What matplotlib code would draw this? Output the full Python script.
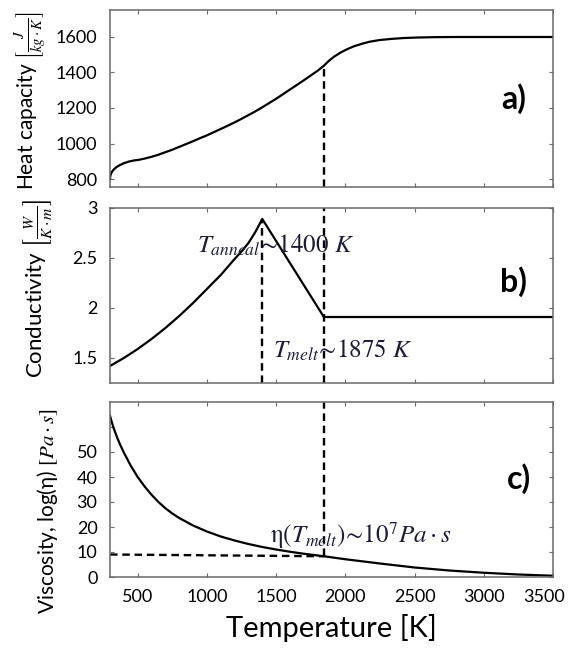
import matplotlib
matplotlib.use('Agg')
import matplotlib.pyplot as plt
import matplotlib.transforms as mtransforms

# ---------------- data ----------------
T_ANNEAL = 1400
T_MELT = 1845

T_CP = [300, 302, 306, 312, 325, 345, 370, 400, 435, 470, 507, 550, 600, 650,
        700, 750, 800, 850, 900, 950, 1000, 1050, 1100, 1150, 1200, 1250,
        1300, 1350, 1400, 1450, 1500, 1550, 1600, 1650, 1700, 1750, 1800,
        1845, 1880, 1920, 1965, 2010, 2060, 2120, 2180, 2250, 2330, 2420,
        2520, 2650, 2800, 3500]
CP = [800, 815, 828, 838, 852, 866, 878, 889, 898, 904, 908, 915, 925, 937,
      951, 965, 981, 997, 1013, 1030, 1046, 1064, 1082, 1100, 1119, 1139,
      1160, 1181, 1204, 1228, 1252, 1278, 1304, 1330, 1356, 1383, 1410,
      1438, 1465, 1490, 1512, 1530, 1547, 1562, 1574, 1583, 1589, 1594,
      1597, 1599, 1600, 1600]

T_K = [300, 350, 400, 450, 500, 550, 600, 650, 700, 750, 800, 850, 900, 950,
       1000, 1050, 1100, 1150, 1200, 1250, 1300, 1350, 1400, 1845, 3500]
COND = [1.42, 1.46, 1.50, 1.545, 1.59, 1.64, 1.69, 1.745, 1.80, 1.86, 1.92,
        1.985, 2.05, 2.12, 2.19, 2.26, 2.33, 2.41, 2.49, 2.565, 2.65, 2.76,
        2.89, 1.91, 1.91]

T_V = [300, 310, 325, 350, 375, 400, 450, 500, 550, 600, 650, 700, 750, 800,
       900, 1000, 1100, 1200, 1300, 1400, 1500, 1600, 1700, 1845, 2000, 2250,
       2500, 2750, 3000, 3250, 3500]
VISC = [64.5, 62.5, 59.8, 56.0, 52.7, 49.8, 44.5, 40.0, 36.2, 32.9, 30.0,
        27.5, 25.4, 23.6, 20.6, 18.2, 16.2, 14.6, 13.2, 12.0, 11.0, 10.1,
        9.3, 8.3, 7.1, 5.4, 3.8, 2.6, 1.7, 1.0, 0.5]
VISC_REF = [9.0, 8.3]   # dashed guide from T_min to T_melt

X_TICKS = [500, 1000, 1500, 2000, 2500, 3000, 3500]

# ---------------- style ----------------
plt.rcParams['font.family'] = ['Lato', 'DejaVu Sans']
plt.rcParams['mathtext.fontset'] = 'stix'
SPINE = '#6a6a6a'
MATHC = '#1c1c3a'
DASH = dict(color='black', lw=1.7, ls=(0, (3.2, 2.0)))

fig = plt.figure(figsize=(5.71, 6.55), dpi=100)
L, W = 110 / 571, 443 / 571
ax_a = fig.add_axes([L, 1 - 187 / 655, W, 177 / 655])
ax_b = fig.add_axes([L, 1 - 383 / 655, W, 175 / 655])
ax_c = fig.add_axes([L, 1 - 577 / 655, W, 175 / 655])

for ax in (ax_a, ax_b, ax_c):
    ax.set_xlim(300, 3500)
    ax.set_xticks(X_TICKS)
    ax.tick_params(direction='in', length=3, width=0.8, color=SPINE,
                   top=True, right=True, labelsize=13, pad=9)
    for s in ax.spines.values():
        s.set_color(SPINE)
        s.set_linewidth(1.1)

# a) heat capacity
ax_a.plot(T_CP, CP, color='black', lw=1.6)
ax_a.set_ylim(755, 1752)
ax_a.set_yticks([800, 1000, 1200, 1400, 1600])
ax_a.tick_params(labelbottom=False)
ax_a.vlines(T_MELT, 755, CP[T_CP.index(T_MELT)], **DASH)
ax_a.text(-0.178, 0.49, r'Heat capacity $\left[\frac{J}{kg\cdot K}\right]$',
          transform=ax_a.transAxes, rotation=90, ha='center', va='center',
          fontsize=15)
ax_a.text(0.94, 0.5, 'a)', transform=ax_a.transAxes, ha='right',
          va='center', fontsize=23, fontweight='bold')

# b) conductivity
ax_b.plot(T_K, COND, color='black', lw=1.6)
ax_b.set_ylim(1.25, 3.0)
ax_b.set_yticks([1.5, 2, 2.5, 3])
ax_b.set_yticklabels(['1.5', '2', '2.5', '3'])
ax_b.tick_params(labelbottom=False)
ax_b.vlines(T_ANNEAL, 1.25, max(COND), **DASH)
ax_b.vlines(T_MELT, 1.25, 3.0, **DASH)
ax_b.text(930, 2.55, r'$T_{anneal}\!\sim\!1400\ K$', fontsize=18,
          color=MATHC, ha='left', va='baseline')
ax_b.text(1480, 1.50, r'$T_{melt}\!\sim\!1875\ K$', fontsize=18,
          color=MATHC, ha='left', va='baseline')
ax_b.text(-0.163, 0.54, r'Conductivity $\left[\frac{W}{K\cdot m}\right]$',
          transform=ax_b.transAxes, rotation=90, ha='center', va='center',
          fontsize=16)
ax_b.text(0.94, 0.58, 'b)', transform=ax_b.transAxes, ha='right',
          va='center', fontsize=23, fontweight='bold')

# c) viscosity
ax_c.plot(T_V, VISC, color='black', lw=1.6)
ax_c.set_ylim(0, 70)
ax_c.set_yticks([0, 10, 20, 30, 40, 50, 60])
ax_c.set_yticklabels(['0', '10', '20', '30', '40', '50', ''])
ax_c.vlines(T_MELT, VISC[T_V.index(T_MELT)], 70, **DASH)
ax_c.plot([300, T_MELT], VISC_REF, **DASH)
ax_c.text(1458, 13.8, r'η$(T_{melt})\!\sim\!10^7 Pa\cdot s$', fontsize=18,
          color=MATHC, ha='left', va='baseline', family='STIXGeneral')
ax_c.text(-0.142, 0.377, r'Viscosity, log(η) $[Pa\cdot s]$',
          transform=ax_c.transAxes, rotation=90, ha='center', va='center',
          fontsize=15)
ax_c.text(0.95, 0.56, 'c)', transform=ax_c.transAxes, ha='right',
          va='center', fontsize=23, fontweight='bold')
ax_c.set_xlabel('Temperature [K]', fontsize=21, labelpad=6)

# last x tick label sits a bit inside the right edge, as in the original
last = ax_c.get_xticklabels()[-1]
last.set_transform(last.get_transform() +
                   mtransforms.ScaledTranslation(-9 / 100, 0, fig.dpi_scale_trans))

fig.savefig('out.png', dpi=100)
